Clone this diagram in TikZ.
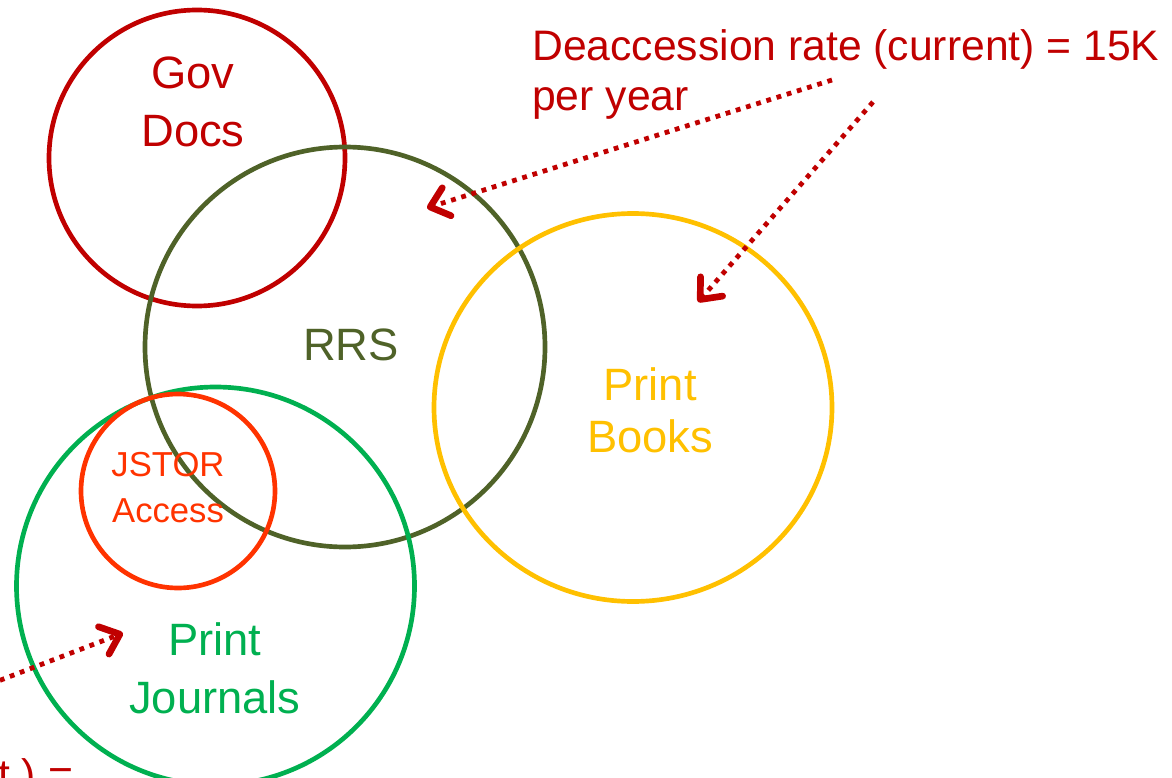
\documentclass[tikz,border=0pt]{standalone}
\usepackage{fontspec}
\setmainfont{Liberation Sans}
\usetikzlibrary{arrows.meta,shapes.geometric}
\definecolor{govred}{HTML}{C00000}
\definecolor{rrsolive}{HTML}{4F6228}
\definecolor{bookyel}{HTML}{FFC000}
\definecolor{jourgreen}{HTML}{00B050}
\definecolor{jstororange}{HTML}{FF3300}
\tikzset{
  ring/.style={draw=#1, line width=3.5pt, inner sep=0pt, outer sep=0pt},
  big/.style={text=#1, font=\fontsize{34}{43.5}\selectfont, align=center, anchor=base, inner sep=0pt},
  pointer/.style={draw=govred, line width=3.6pt, dash pattern=on 3.6pt off 4.4pt,
    -{Straight Barb[length=13pt,width=22pt,line width=5pt,line cap=round,line join=round,sep=0pt]}},
}
\begin{document}
\begin{tikzpicture}[x=0.75pt,y=-0.75pt]
\useasboundingbox (0,0) rectangle (1172,778);
% circles
\node[ring=govred, circle, minimum size=296*0.75pt] (gov) at (197,158) {};
\node[ring=rrsolive, circle, minimum size=400*0.75pt] (rrs) at (345,347) {};
\node[ring=bookyel, ellipse, minimum width=398*0.75pt, minimum height=388*0.75pt] (books) at (633,407.5) {};
\node[ring=jourgreen, circle, minimum size=398*0.75pt] (jour) at (215.5,586) {};
\node[ring=jstororange, circle, minimum size=194*0.75pt] (jstor) at (178,491) {};
% labels
\node[big=govred] (govt) at (193,146) {Gov\\Docs};
\node[big=rrsolive] (rrst) at (351,360) {RRS};
\node[big=bookyel, font=\fontsize{34}{39}\selectfont] (bookst) at (650,452) {Print\\Books};
\node[big=jourgreen] (jourt) at (215,713) {Print\\Journals};
\node[big=jstororange, font=\fontsize{26}{34}\selectfont] (jstort) at (168,522) {JSTOR\\Access};
\node[text=govred, font=\fontsize{32}{37.5}\selectfont, align=left, anchor=base west, inner sep=0pt] (deacc) at (532,110) {Deaccession rate (current) = 15K\\per year};
\node[text=govred, font=\fontsize{32}{37.5}\selectfont, anchor=base west, inner sep=0pt] (bottomt) at (-2,789) {t ) =};
% arrow endpoints
\coordinate (a1s) at (832,80);
\coordinate (a1e) at (427,208);
\coordinate (a2s) at (873,102);
\coordinate (a2e) at (698,302);
\coordinate (a3s) at (-20,688);
\coordinate (a3e) at (123,633);
\draw[pointer] (a1s) -- (a1e);
\draw[pointer] (a2s) -- (a2e);
\draw[pointer] (a3s) -- (a3e);
\end{tikzpicture}
\end{document}
